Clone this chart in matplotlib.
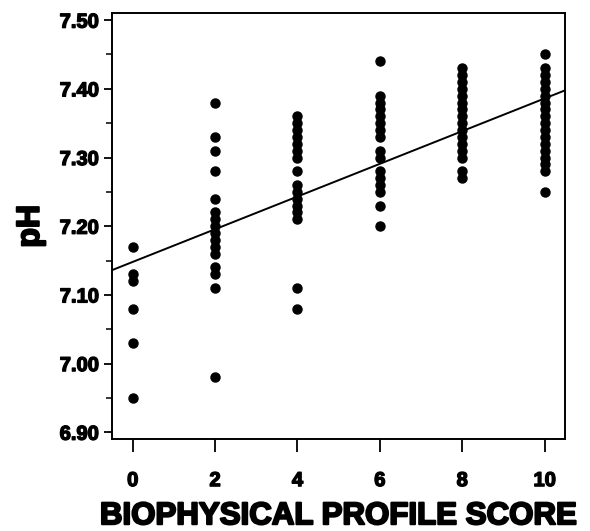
import matplotlib.pyplot as plt
import matplotlib.patheffects as pe
from matplotlib.ticker import MultipleLocator, FormatStrFormatter

plt.rcParams['font.family'] = ['Liberation Sans', 'DejaVu Sans']
plt.rcParams['font.weight'] = 'bold'

# pH values, grouped by biophysical profile score
score0 = [7.17, 7.13, 7.12, 7.08, 7.03, 6.95]
score2 = [7.38, 7.33, 7.31, 7.28, 7.24, 7.22, 7.21, 7.20, 7.19, 7.18,
          7.17, 7.16, 7.14, 7.13, 7.11, 6.98]
score4 = [7.36, 7.35, 7.34, 7.33, 7.32, 7.31, 7.30, 7.28, 7.26, 7.25,
          7.24, 7.23, 7.22, 7.21, 7.11, 7.08]
score6 = [7.44, 7.39, 7.38, 7.37, 7.36, 7.35, 7.34, 7.33, 7.31, 7.30,
          7.28, 7.27, 7.26, 7.25, 7.23, 7.20]
score8 = [7.43, 7.42, 7.41, 7.40, 7.39, 7.38, 7.37, 7.36, 7.35, 7.34,
          7.33, 7.32, 7.31, 7.30, 7.28, 7.27]
score10 = [7.45, 7.43, 7.42, 7.41, 7.40, 7.39, 7.38, 7.37, 7.36, 7.35,
           7.34, 7.33, 7.32, 7.31, 7.30, 7.29, 7.28, 7.25]

scores = [0, 2, 4, 6, 8, 10]
groups = [score0, score2, score4, score6, score8, score10]

# regression line
intercept = 7.148
slope = 0.0238

fig = plt.figure(figsize=(5.9, 5.31), dpi=100)
ax = fig.add_axes([0.19, 0.173, 0.768, 0.802])

for s, vals in zip(scores, groups):
    ax.plot([s] * len(vals), vals, 'o', color='black', ms=6.5, mec='black')

xs = [-0.5, 10.5]
ax.plot(xs, [intercept + slope * x for x in xs], color='black', lw=1.4)

ax.set_xlim(-0.5, 10.5)
ax.set_ylim(6.89, 7.51)
ax.set_xticks(scores)
ax.yaxis.set_major_locator(MultipleLocator(0.1))
ax.yaxis.set_minor_locator(MultipleLocator(0.05))
ax.yaxis.set_major_formatter(FormatStrFormatter('%.2f'))

ax.tick_params(axis='both', which='major', direction='out', length=6,
               width=1.3, labelsize=14.5)
ax.tick_params(axis='y', which='minor', direction='out', length=4, width=1.1)
ax.tick_params(axis='x', length=9, pad=14)
for sp in ax.spines.values():
    sp.set_linewidth(1.4)

heavy = [pe.withStroke(linewidth=1.0, foreground='black')]
for lab in ax.get_xticklabels() + ax.get_yticklabels():
    lab.set_path_effects(heavy)

ax.set_xlabel('BIOPHYSICAL PROFILE SCORE', fontsize=22.5, fontweight='bold',
              labelpad=8, path_effects=[pe.withStroke(linewidth=1.5, foreground='black')])
ax.set_ylabel('pH', fontsize=23, fontweight='bold', labelpad=10,
              path_effects=[pe.withStroke(linewidth=1.5, foreground='black')])

fig.savefig('out.png', dpi=100)
